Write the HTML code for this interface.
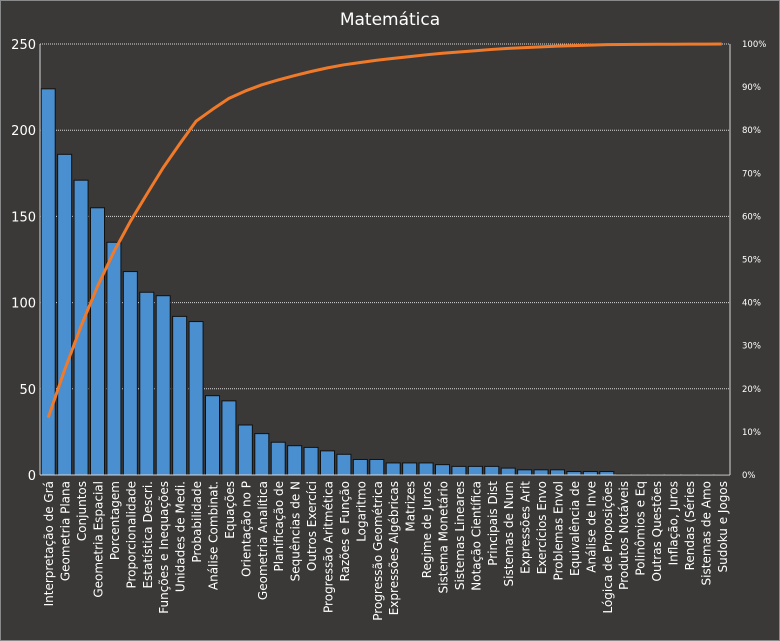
<!DOCTYPE html>
<html><head><meta charset="utf-8"><style>
body{margin:0;background:#3b3a38;}
svg{display:block;font-family:"DejaVu Sans","Liberation Sans",sans-serif;}
</style></head><body>
<svg id="c" width="780" height="641">
<rect x="0.5" y="0.5" width="779" height="640" fill="#3a3937" stroke="#8a8a8a"/>
<text x="390" y="25" fill="#ffffff" font-size="17" text-anchor="middle">Matemática</text>
</svg>
<script>
const categories=["Interpretação de Grá","Geometria Plana","Conjuntos","Geometria Espacial","Porcentagem","Proporcionalidade","Estatística Descri.","Funções e Inequações","Unidades de Medi.","Probabilidade","Análise Combinat.","Equações","Orientação no P","Geometria Analítica","Planificação de","Sequências de N","Outros Exercíci","Progressão Aritmética","Razões e Função","Logaritmo","Progressão Geométrica","Expressões Algébricas","Matrizes","Regime de Juros","Sistema Monetário","Sistemas Lineares","Notação Científica","Principais Dist","Sistemas de Num","Expressões Arit","Exercícios Envo","Problemas Envol","Equivalência de","Análise de Inve","Lógica de Proposições","Produtos Notáveis","Polinômios e Eq","Outras Questões","Inflação, Juros","Rendas (Séries","Sistemas de Amo","Sudoku e Jogos"];
const values=[224,186,171,155,135,118,106,104,92,89,46,43,29,24,19,17,16,14,12,9,9,7,7,7,6,5,5,5,4,3,3,3,2,2,2,0.4,0.3,0.3,0.3,0.3,0.3,0.3];
const leftTicks=[0,50,100,150,200,250];
const rightTicks=[0,10,20,30,40,50,60,70,80,90,100];
const svg=document.getElementById('c');const NS='http://www.w3.org/2000/svg';
const X0=40,X1=730,Y0=475,Y1=44;
const bw=(X1-X0)/categories.length;
const y=v=>Y0-(v/250)*(Y0-Y1);
const yp=p=>Y0-(p/100)*(Y0-Y1);
const xc=i=>X0+bw*(i+0.5);
function mk(t,a,txt){const e=document.createElementNS(NS,t);for(const k in a)e.setAttribute(k,a[k]);if(txt!==undefined)e.textContent=txt;svg.appendChild(e);return e;}
leftTicks.forEach(t=>{
 if(t>0){const g=mk('line',{x1:X0,x2:X1,y1:y(t),y2:y(t),stroke:'#d8d8d8','stroke-dasharray':'1,1','stroke-width':1});
 
 }
 const l=mk('text',{x:36,y:y(t)+5,fill:'#fff','font-size':13,'text-anchor':'end'},String(t));
 
 
});
rightTicks.forEach(t=>{
 const l=mk('text',{x:742,y:yp(t)+3,fill:'#fff','font-size':8.5},t+'%');
 
 
});
const ax=mk('line',{x1:X0,x2:X0,y1:Y1,y2:Y0,stroke:'#d8d8d8'});


const ax2=mk('line',{x1:X1,x2:X1,y1:Y1,y2:Y0,stroke:'#d8d8d8'});


const total=values.reduce((a,b)=>a+b,0);let cum=0;const pts=[];
values.forEach((v,i)=>{
 const b=mk('rect',{x:xc(i)-7,y:y(v),width:14,height:Y0-y(v),fill:'#4a8fd0',stroke:'#111','stroke-width':1});
 
 
 cum+=v;pts.push(xc(i)+','+yp(cum/total*100));
 const l=mk('text',{transform:`translate(${xc(i)+5},481) rotate(-90)`,fill:'#fff','font-size':12,'text-anchor':'end'},categories[i]);
 
 
});
const bl=mk('line',{x1:X0,x2:X1,y1:Y0,y2:Y0,stroke:'#d8d8d8'});


const ln=mk('polyline',{points:pts.join(' '),fill:'none',stroke:'#f07a2a','stroke-width':3,'stroke-linejoin':'round'});


</script>
</body></html>
